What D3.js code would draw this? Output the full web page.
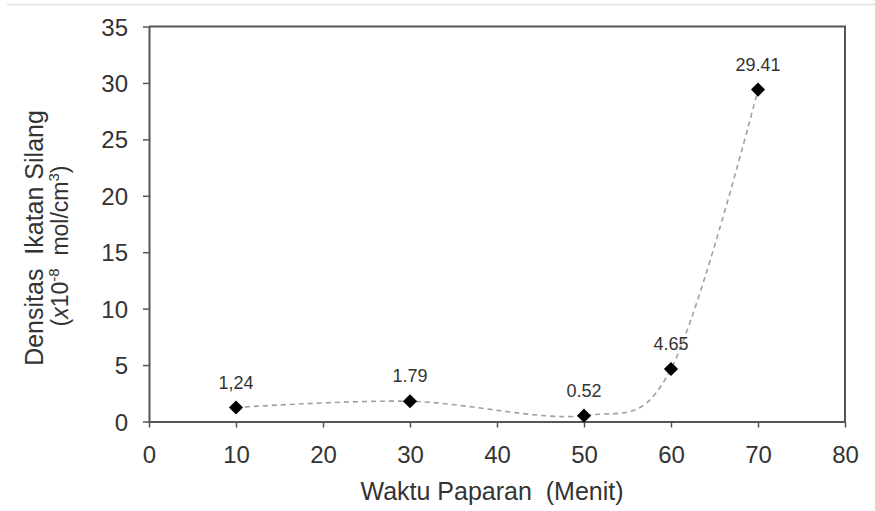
<!DOCTYPE html>
<html>
<head>
<meta charset="utf-8">
<script src="https://cdn.jsdelivr.net/npm/d3@7"></script>
<style>
  body { margin: 0; background: #fff; }
  svg { display: block; font-family: Arial, "Liberation Sans", sans-serif; }
</style>
</head>
<body>
<svg id="chart" width="875" height="511"></svg>
<script>
// data
const waktu = [10, 30, 50, 60, 70];
const densitas = [1.24, 1.79, 0.52, 4.65, 29.41];
const labelText = ["1,24", "1.79", "0.52", "4.65", "29.41"];
const xTicks = [0, 10, 20, 30, 40, 50, 60, 70, 80];
const yTicks = [0, 5, 10, 15, 20, 25, 30, 35];

const svg = d3.select("#chart");
const axisColor = "#555";

const x = d3.scaleLinear().domain([0, 80]).range([149, 845]);
const y = d3.scaleLinear().domain([0, 35]).range([421.5, 26.5]);

// faint rule at the very top of the picture
svg.append("line")
  .attr("x1", 7).attr("x2", 875).attr("y1", 4.5).attr("y2", 4.5)
  .attr("stroke", "#e2e2e2").attr("stroke-width", 1.5);

// frame top and right
svg.append("path")
  .attr("d", `M${x(0)},${y(35)}H${x(80)}V${y(0)}`)
  .attr("fill", "none").attr("stroke", axisColor).attr("stroke-width", 2);

// axes
const xAxis = svg.append("g")
  .attr("transform", `translate(0,${y(0)})`)
  .call(d3.axisBottom(x).tickValues(xTicks).tickSize(6).tickPadding(18).tickSizeOuter(0));
const yAxis = svg.append("g")
  .attr("transform", `translate(${x(0)},0)`)
  .call(d3.axisLeft(y).tickValues(yTicks).tickSize(6).tickPadding(15).tickSizeOuter(0));

[xAxis, yAxis].forEach(g => {
  g.select(".domain").attr("stroke", axisColor).attr("stroke-width", 2);
  g.selectAll(".tick line").attr("stroke", axisColor).attr("stroke-width", 1.5);
  g.selectAll(".tick text")
    .attr("fill", "#333")
    .style("font-size", "24px")
    .style("font-family", "Arial, 'Liberation Sans', sans-serif");
});
yAxis.selectAll(".tick text").attr("dy", "0.36em");

// smoothed dashed line
const pts = waktu.map((w, i) => [w, densitas[i]]);
const line = d3.line()
  .x(d => x(d[0]))
  .y(d => y(d[1]))
  .curve(d3.curveCatmullRom.alpha(0));
svg.append("path")
  .datum(pts)
  .attr("d", line)
  .attr("fill", "none")
  .attr("stroke", "#a0a0a0")
  .attr("stroke-width", 1.6)
  .attr("stroke-dasharray", "5,4");

// diamond markers
svg.selectAll(".pt")
  .data(pts)
  .join("path")
  .attr("class", "pt")
  .attr("d", d3.symbol(d3.symbolSquare, 100))
  .attr("transform", d => `translate(${x(d[0])},${y(d[1])}) rotate(45)`)
  .attr("fill", "#000");

// value labels
svg.selectAll(".lbl")
  .data(pts)
  .join("text")
  .attr("class", "lbl")
  .attr("x", d => x(d[0]))
  .attr("y", d => y(d[1]) - 19)
  .attr("text-anchor", "middle")
  .attr("fill", "#333")
  .style("font-size", "18px")
  .text((d, i) => labelText[i]);

// axis titles
svg.append("text")
  .attr("x", 492).attr("y", 500)
  .attr("text-anchor", "middle")
  .attr("fill", "#333")
  .style("font-size", "25px")
  .style("white-space", "pre")
  .text("Waktu Paparan  (Menit)");

svg.append("text")
  .attr("transform", "translate(43,238) rotate(-90)")
  .attr("text-anchor", "middle")
  .attr("fill", "#333")
  .style("font-size", "25px")
  .style("white-space", "pre")
  .text("Densitas  Ikatan Silang");

const yt2 = svg.append("text")
  .attr("transform", "translate(68,246) rotate(-90)")
  .attr("text-anchor", "middle")
  .attr("fill", "#333")
  .style("font-size", "23px")
  .style("white-space", "pre");
yt2.append("tspan").text("(");
yt2.append("tspan").style("font-style", "italic").text("x");
yt2.append("tspan").text("10");
yt2.append("tspan").attr("dy", -9).style("font-size", "15px").text("-8");
yt2.append("tspan").attr("dy", 9).text("  mol/cm");
yt2.append("tspan").attr("dy", -9).style("font-size", "15px").text("3");
yt2.append("tspan").attr("dy", 9).text(")");
</script>
</body>
</html>
